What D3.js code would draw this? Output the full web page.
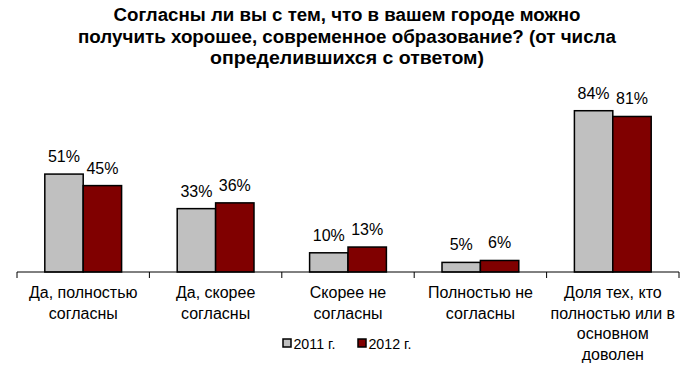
<!DOCTYPE html>
<html>
<head>
<meta charset="utf-8">
<script src="https://cdn.jsdelivr.net/npm/d3@7"></script>
<style>
  body { margin: 0; background: #fff; }
  text { font-family: "Liberation Sans", Arial, sans-serif; fill: #000; }
</style>
</head>
<body>
<svg id="svg"></svg>
<script>
const width = 694;
const height = 388;

const categories = [
  ["Да, полностью", "согласны"],
  ["Да, скорее", "согласны"],
  ["Скорее не", "согласны"],
  ["Полностью не", "согласны"],
  ["Доля тех, кто", "полностью или в", "основном", "доволен"],
];
const years = ["2011 г.", "2012 г."];
const values2011 = [51, 33, 10, 5, 84];
const values2012 = [45, 36, 13, 6, 81];
const colors = ["#c0c0c0", "#800000"];
const titleLines = [
  "Согласны ли вы с тем, что в вашем городе можно",
  "получить хорошее, современное образование? (от числа",
  "определившихся с ответом)",
];

const margin = { left: 17, right: 15, top: 80, bottom: 116 };

let svg = d3.select("#svg").attr("width", width).attr("height", height);

const x0 = d3
  .scaleBand()
  .domain(d3.range(categories.length))
  .range([margin.left, width - margin.right])
  .paddingInner(0.42)
  .paddingOuter(0.21);

const x1 = d3.scaleBand().domain([0, 1]).range([0, x0.bandwidth()]);

const y = d3
  .scaleLinear()
  .domain([0, 100])
  .range([height - margin.bottom, margin.top]);

// title
const titleWidths = [467, 538, 274];
svg
  .append("g")
  .selectAll("text")
  .data(titleLines)
  .join("text")
  .attr("x", width / 2)
  .attr("y", (d, i) => 21 + i * 21.5)
  .attr("text-anchor", "middle")
  .attr("font-size", 18)
  .attr("font-weight", "bold")
  .attr("textLength", (d, i) => titleWidths[i])
  .attr("lengthAdjust", "spacingAndGlyphs")
  .text((d) => d);

// bars
const series = [values2011, values2012];
const groups = svg
  .append("g")
  .selectAll("g")
  .data(categories)
  .join("g")
  .attr("transform", (d, i) => `translate(${x0(i)},0)`);

groups
  .selectAll("rect")
  .data((d, i) => series.map((s, k) => ({ k, v: s[i] })))
  .join("rect")
  .attr("x", (d) => x1(d.k))
  .attr("width", x1.bandwidth())
  .attr("y", (d) => y(d.v))
  .attr("height", (d) => y(0) - y(d.v))
  .attr("fill", (d) => colors[d.k])
  .attr("stroke", "#000")
  .attr("stroke-width", 1.5);

groups
  .selectAll("text")
  .data((d, i) => series.map((s, k) => ({ k, v: s[i] })))
  .join("text")
  .attr("x", (d) => x1(d.k) + x1.bandwidth() / 2)
  .attr("y", (d) => y(d.v) - 12)
  .attr("text-anchor", "middle")
  .attr("font-size", 16)
  .text((d) => d.v + "%");

// axis
const axisY = y(0);
const ax = svg.append("g").attr("stroke", "#000").attr("stroke-width", 1);
ax.append("line")
  .attr("x1", margin.left)
  .attr("x2", width - margin.right)
  .attr("y1", axisY)
  .attr("y2", axisY);
const step = (width - margin.left - margin.right) / categories.length;
ax.selectAll("line.tick")
  .data(d3.range(categories.length + 1))
  .join("line")
  .attr("class", "tick")
  .attr("x1", (d) => margin.left + d * step)
  .attr("x2", (d) => margin.left + d * step)
  .attr("y1", axisY)
  .attr("y2", axisY + 6);

// category labels
svg
  .append("g")
  .selectAll("text")
  .data(categories)
  .join("text")
  .attr("text-anchor", "middle")
  .attr("font-size", 16)
  .attr("transform", (d, i) => `translate(${margin.left + (i + 0.5) * step},0)`)
  .selectAll("tspan")
  .data((d) => d)
  .join("tspan")
  .attr("x", 0)
  .attr("y", (d, j) => 298 + j * 20.5)
  .text((d) => d);

// legend
const legend = svg
  .append("g")
  .selectAll("g")
  .data(years)
  .join("g")
  .attr("transform", (d, i) => `translate(${283 + i * 75},339)`);
legend
  .append("rect")
  .attr("width", 8)
  .attr("height", 8)
  .attr("fill", (d, i) => colors[i])
  .attr("stroke", "#000")
  .attr("stroke-width", 1.5);
legend
  .append("text")
  .attr("x", 11)
  .attr("y", 9.5)
  .attr("font-size", 15)
  .attr("transform", "scale(0.95,1)")
  .text((d) => d);
</script>
</body>
</html>
